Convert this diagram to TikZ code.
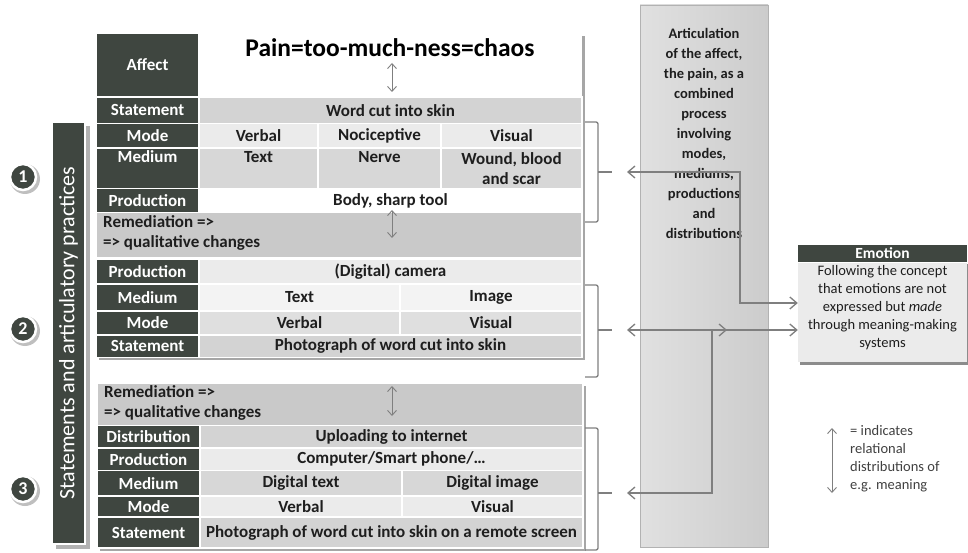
\documentclass[tikz,border=0pt]{standalone}
\usepackage{fontspec}
\setmainfont{Carlito}
\usetikzlibrary{positioning,calc,arrows.meta}

\definecolor{darkrow}{HTML}{3F4640}
\definecolor{rowgray}{HTML}{D3D3D3}
\definecolor{rowmid}{HTML}{D7D7D7}
\definecolor{rowlight}{HTML}{EBEBEB}
\definecolor{rowpale}{HTML}{F3F3F3}
\definecolor{remgray}{HTML}{C9C9C9}
\definecolor{linegray}{HTML}{7F7F7F}
\definecolor{textdark}{HTML}{1E1E1E}

\tikzset{
  lab/.style={fill=darkrow, text=white, draw=white, line width=1.2pt, inner sep=0pt,
    minimum width=103pt, font=\fontsize{17}{20}\selectfont\bfseries},
  cell/.style={draw=white, line width=1.2pt, inner sep=0pt, text=textdark, align=center,
    font=\fontsize{17}{20}\selectfont\bfseries},
  remtext/.style={anchor=west, inner sep=0pt, align=left, text=textdark,
    font=\fontsize{17}{20}\selectfont\bfseries},
  relarr/.style={linegray, line width=0.9pt,
    {Straight Barb[length=5pt,width=9pt]}-{Straight Barb[length=5pt,width=9pt]}},
  link/.style={linegray, line width=1.3pt},
  bothtips/.style={{Straight Barb[length=7pt,width=12pt]}-{Straight Barb[length=7pt,width=12pt]}},
  bracket/.style={linegray, line width=1.3pt, rounded corners=2pt},
  shadow/.style={fill=black!35},
  num/.style={circle, fill=darkrow, text=white, draw=white, line width=2.5pt,
    minimum size=26pt, inner sep=0pt, font=\fontsize{18}{18}\selectfont\bfseries}
}

\begin{document}
\begin{tikzpicture}[x=1pt, y=-1pt]
  \useasboundingbox (0,0) rectangle (968,553);

  % shadows behind the three blocks
  \fill[shadow] (99,36) rectangle (585,360);
  \fill[shadow] (100,386) rectangle (586,551);

  % Block 1
  \fill[white] (96,33) rectangle (582,97);
  \node[lab, minimum height=64pt] (affect) at (147.5,65) {Affect};
  \node[font=\fontsize{25.5}{25.5}\selectfont\bfseries] (title) at (390,48) {Pain=too-much-ness=chaos};

  \node[lab, minimum height=26.5pt] (s1stat) at (147.5,110.25) {Statement};
  \node[cell, fill=rowgray, minimum width=383pt, minimum height=26.5pt] (s1statc) at (390.5,110.25) {Word cut into skin};

  \node[lab, minimum height=24.5pt] (s1mode) at (147.5,135.75) {Mode};
  \node[cell, fill=rowlight, minimum width=119pt, minimum height=24.5pt] (s1modea) at (258.5,135.75) {Verbal};
  \node[cell, fill=rowlight, minimum width=123pt, minimum height=24.5pt] (s1modeb) at (379.5,135.75) {Nociceptive};
  \node[cell, fill=rowlight, minimum width=141pt, minimum height=24.5pt] (s1modec) at (511.5,135.75) {Visual};

  \node[lab, minimum height=40.5pt, align=center] (s1med) at (147.5,168.25) {Medium\\\phantom{g}};
  \node[cell, fill=rowmid, minimum width=119pt, minimum height=40.5pt] (s1meda) at (258.5,168.25) {Text\\\phantom{g}};
  \node[cell, fill=rowmid, minimum width=123pt, minimum height=40.5pt] (s1medb) at (379.5,168.25) {Nerve\\\phantom{g}};
  \node[cell, fill=rowmid, minimum width=141pt, minimum height=40.5pt] (s1medc) at (511.5,168.25) {Wound, blood\\and scar};

  \node[lab, minimum height=24pt] (s1prod) at (147.5,200.5) {Production};
  \node[cell, fill=white, minimum width=383pt, minimum height=24pt] (s1prodc) at (390.5,200.5) {Body, sharp tool};

  \node[cell, fill=remgray, minimum width=486pt, minimum height=45.5pt] (rem1) at (339,235.25) {};
  \node[remtext] (rem1txt) at (103,233) {Remediation =>\\=> qualitative changes};

  % Block 2
  \node[lab, minimum height=25pt] (s2prod) at (147.5,271.5) {Production};
  \node[cell, fill=rowlight, minimum width=383pt, minimum height=25pt] (s2prodc) at (390.5,271.5) {(Digital) camera};

  \node[lab, minimum height=27pt] (s2med) at (147.5,297.5) {Medium};
  \node[cell, fill=rowpale, minimum width=201pt, minimum height=27pt] (s2meda) at (299.5,297.5) {Text};
  \node[cell, fill=rowpale, minimum width=182pt, minimum height=27pt] (s2medb) at (491,297.5) {Image};

  \node[lab, minimum height=24pt] (s2mode) at (147.5,323) {Mode};
  \node[cell, fill=rowlight!95!black, minimum width=201pt, minimum height=24pt] (s2modea) at (299.5,323) {Verbal};
  \node[cell, fill=rowlight!95!black, minimum width=182pt, minimum height=24pt] (s2modeb) at (491,323) {Visual};

  \node[lab, minimum height=22.5pt] (s2stat) at (147.5,346.25) {Statement};
  \node[cell, fill=rowgray, minimum width=383pt, minimum height=22.5pt] (s2statc) at (390.5,346.25) {Photograph of word cut into skin};

  % Block 3
  \node[cell, fill=remgray, minimum width=486pt, minimum height=42.5pt] (rem2) at (340,404.25) {};
  \node[remtext] (rem2txt) at (104,403) {Remediation =>\\=> qualitative changes};

  \node[lab, minimum height=22.5pt] (s3dist) at (148.5,436.75) {Distribution};
  \node[cell, fill=rowgray, minimum width=383pt, minimum height=22.5pt] (s3distc) at (391.5,436.75) {Uploading to internet};

  \node[lab, minimum height=22.5pt] (s3prod) at (148.5,459.25) {Production};
  \node[cell, fill=rowlight, minimum width=383pt, minimum height=22.5pt] (s3prodc) at (391.5,459.25) {Computer/Smart phone/\ldots};

  \node[lab, minimum height=25.5pt] (s3med) at (148.5,483.25) {Medium};
  \node[cell, fill=rowmid, minimum width=202pt, minimum height=25.5pt] (s3meda) at (301,483.25) {Digital text};
  \node[cell, fill=rowmid, minimum width=181pt, minimum height=25.5pt] (s3medb) at (492.5,483.25) {Digital image};

  \node[lab, minimum height=21pt] (s3mode) at (148.5,506.5) {Mode};
  \node[cell, fill=rowlight, minimum width=202pt, minimum height=21pt] (s3modea) at (301,506.5) {Verbal};
  \node[cell, fill=rowlight, minimum width=181pt, minimum height=21pt] (s3modeb) at (492.5,506.5) {Visual};

  \node[lab, minimum height=31pt] (s3stat) at (148.5,532.5) {Statement};
  \node[cell, fill=rowgray, minimum width=383pt, minimum height=31pt] (s3statc) at (391.5,532.5) {Photograph of word cut into skin on a remote screen};

  % relational arrows inside the table
  \draw[relarr] (392,63) -- (392,92);
  \draw[relarr] (392,210) -- (392,238);
  \draw[relarr] (392,386) -- (392,416);

  % left bar and numbers
  \fill[black!30] (56,126) rectangle (90,549);
  \node[fill=darkrow, draw=white, line width=1.5pt, text=white, rotate=90,
    minimum width=422pt, minimum height=33pt, inner sep=0pt,
    font=\fontsize{22}{22}\selectfont] (bar) at (68.5,333) {Statements and articulatory practices};
  \fill[black!25] (25,179) circle (15pt);
  \node[num] (n1) at (23,177) {1};
  \fill[black!25] (25,331) circle (15pt);
  \node[num] (n2) at (23,329) {2};
  \fill[black!25] (25,491) circle (15pt);
  \node[num] (n3) at (23,489) {3};

  % brackets
  \draw[bracket] (585,122) -- (598,122) -- (598,222) -- (585,222);
  \draw[bracket] (598,172) -- (612,172);
  \draw[bracket] (585,285) -- (598,285) -- (598,377) -- (585,377);
  \draw[bracket] (598,330) -- (612,330);
  \draw[bracket] (585,428) -- (598,428) -- (598,550) -- (585,550);
  \draw[bracket] (598,493) -- (612,493);
  \coordinate (br1) at (627,172);
  \coordinate (br2) at (627,330);
  \coordinate (br3) at (627,493);

  % middle column
  \node[draw=black!30, left color=black!12, right color=black!20, minimum width=128pt,
    minimum height=542pt, inner sep=0pt] (artic) at (704,276) {};
  \node[anchor=north, inner sep=0pt, align=center, text=textdark,
    font=\fontsize{14.5}{20}\selectfont\bfseries] (artictxt) at (704,28)
    {Articulation\\of the affect,\\the pain, as a\\combined\\process\\involving\\modes,\\mediums,\\productions\\and\\distributions};

  % emotion box
  \fill[black!45] (800,264) rectangle (969,365);
  \node[fill=darkrow, text=white, minimum width=169pt, minimum height=17pt, inner sep=0pt,
    font=\fontsize{15.5}{15.5}\selectfont\bfseries] (emohead) at (882.5,253.5) {Emotion};
  \node[fill=rowlight, minimum width=169pt, minimum height=99pt, inner sep=0pt] (emo) at (882.5,312.5) {};
  \node[anchor=north, inner sep=0pt, align=center, text=textdark,
    font=\fontsize{14.5}{18}\selectfont] (emotxt) at (882.5,265)
    {Following the concept\\that emotions are not\\expressed but \textit{made}\\through meaning-making\\systems};

  % connectors
  \coordinate (k1) at (740,303);
  \coordinate (k3) at (712,330);
  \coordinate (k3e) at (727,330);
  \draw[link, bothtips] (br1) -| (k1) -- (emo.west |- k1);
  \draw[link, bothtips] (br2) -- (emo.west |- br2);
  \draw[link, bothtips] (br3) -| (k3) -- (k3e);

  % legend
  \draw[relarr] (832,428) -- (832,493);
  \node[anchor=north west, inner sep=0pt, align=left, text=black!75,
    font=\fontsize{14.5}{18}\selectfont] (legend) at (850,425)
    {= indicates\\relational\\distributions of\\e.g. meaning};
\end{tikzpicture}
\end{document}
